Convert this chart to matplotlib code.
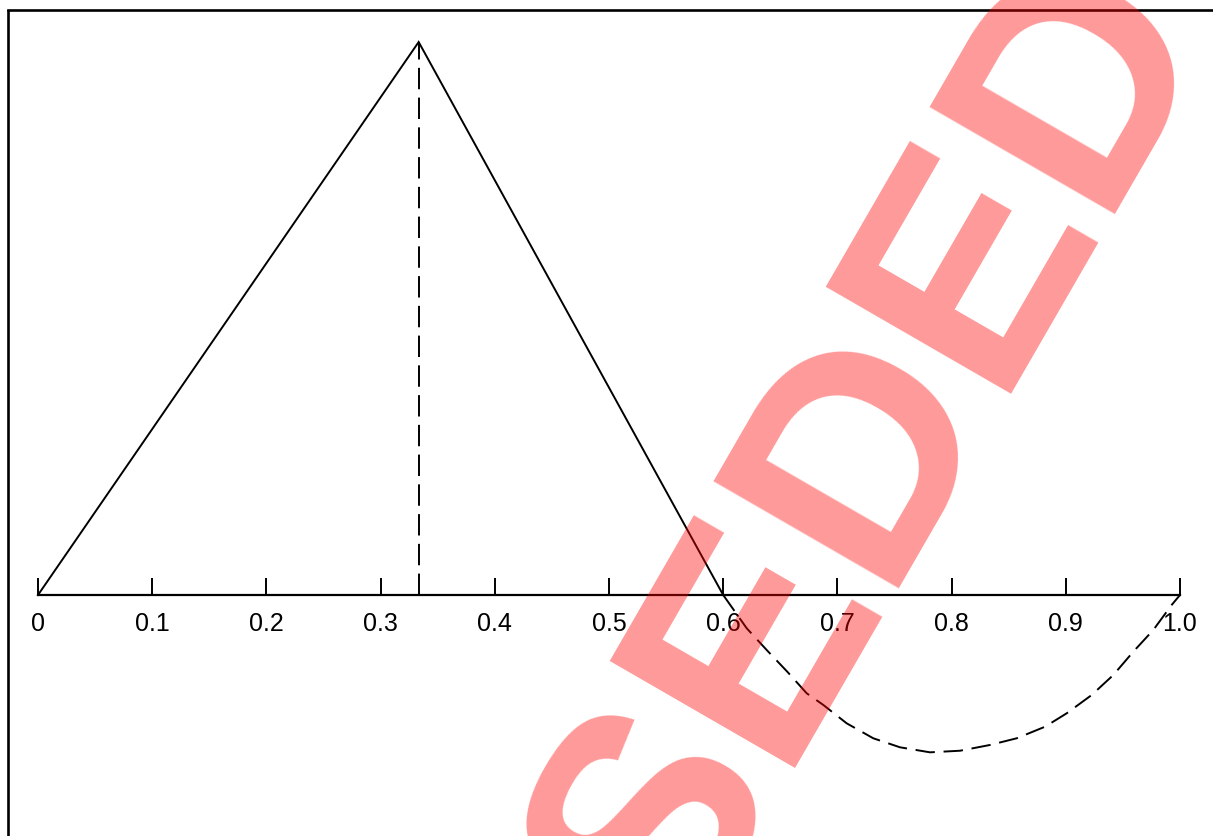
import numpy as np
import matplotlib
matplotlib.use("Agg")
import matplotlib.pyplot as plt

plt.rcParams['font.family'] = ['Liberation Sans', 'DejaVu Sans']

# triangle (solid) and the dashed peak marker
tri_x = [0.0, 1/3, 0.6]
tri_y = [0.0, 1.0, 0.0]
peak_x = 1/3

# dashed curve below the axis
curve_x = [0.6, 0.6206, 0.6381, 0.6561, 0.6731, 0.6877, 0.7081, 0.7314, 0.7548, 0.7811,
           0.8074, 0.8336, 0.8570, 0.8818, 0.9008, 0.9227, 0.9416, 0.9591, 0.9766, 0.9927, 1.0]
curve_y = [0.0, -0.0602, -0.0995, -0.1387, -0.1777, -0.1989, -0.2320, -0.2591, -0.2754, -0.2845,
           -0.2816, -0.2712, -0.2591, -0.2382, -0.2139, -0.1808, -0.1447, -0.1025, -0.0633, -0.018, 0.0]

tick_vals = [0, 0.1, 0.2, 0.3, 0.4, 0.5, 0.6, 0.7, 0.8, 0.9, 1.0]
tick_labels = ["0", "0.1", "0.2", "0.3", "0.4", "0.5", "0.6", "0.7", "0.8", "0.9", "1.0"]

W, H = 1213, 836
fig = plt.figure(figsize=(W/100, H/100), dpi=100)

# axes box: left/top spines are the frame, right/bottom lie off the page
ax = fig.add_axes([8.3/W, -0.05, 1.05 - 8.3/W, 1.05 - 10.5/H])
ax.set_xlim((8.3 - 38)/1142, (1.05*W - 38)/1142)
ax.set_ylim(-(1.05*H - 595)/553, (595 - 10.5)/553)

ax.plot(tri_x, tri_y, color='black', lw=1.4, solid_joinstyle='miter')
ax.plot([peak_x, peak_x], [0, 1], color='black', lw=1.4, linestyle=(0, (11, 4.3)))
ax.plot(curve_x, curve_y, color='black', lw=1.4, linestyle=(0, (10, 4.5)))

for s in ['left', 'top']:
    ax.spines[s].set_linewidth(1.9)
ax.spines['right'].set_visible(False)
ax.spines['bottom'].set_position(('data', 0))
ax.spines['bottom'].set_bounds(0, 1)
ax.spines['bottom'].set_linewidth(1.6)

ax.set_xticks(tick_vals)
ax.set_xticklabels(tick_labels, fontsize=18)
ax.tick_params(axis='x', direction='in', length=12.5, width=1.4, pad=12)
ax.set_yticks([])

# watermark, runs off the page like in the original
fig.text(677.75/W, 1 - 957.6/H, "SUPERSEDED", rotation=60, rotation_mode='anchor',
         ha='center', va='baseline', fontsize=224, fontweight='bold', color='red', alpha=0.4,
         family='Liberation Sans', zorder=10)

fig.savefig("out.png", dpi=100)
